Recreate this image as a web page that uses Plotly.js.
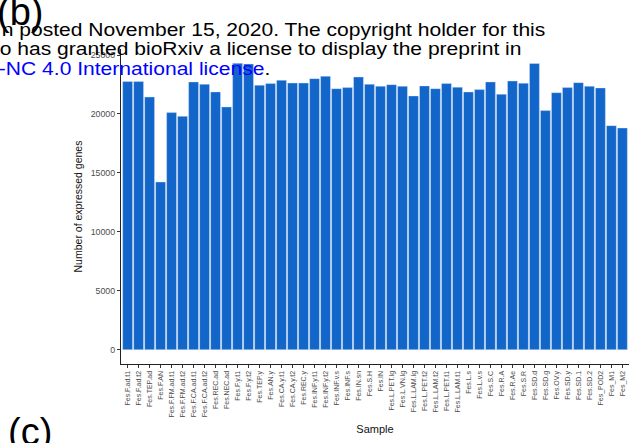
<!DOCTYPE html>
<html>
<head>
<meta charset="utf-8">
<script src="https://cdn.plot.ly/plotly-3.0.1.min.js"></script>
<style>
  html, body { margin: 0; padding: 0; background: #ffffff; }
  #chart { width: 637px; height: 443px; }
</style>
</head>
<body>
<div id="chart"></div>
<script>
// ---- data ----
const samples = [
  "Fes.F.ad.t1", "Fes.F.ad.t2", "Fes.TEP.ad", "Fes.F.AN", "Fes.F.FM.ad.t1",
  "Fes.F.FM.ad.t2", "Fes.F.CA.ad.t1", "Fes.F.CA.ad.t2", "Fes.REC.ad", "Fes.NEC.ad",
  "Fes.F.y.t1", "Fes.F.y.t2", "Fes.TEP.y", "Fes.AN.y", "Fes.CA.y.t1",
  "Fes.CA.y.t2", "Fes.REC.y", "Fes.INF.y.t1", "Fes.INF.y.t2", "Fes.INF.v.s",
  "Fes.INF.s", "Fes.IN.sn", "Fes.S.H", "Fes.IN", "Fes.L.PET.lg",
  "Fes.L.VN.lg", "Fes.L.LAM.lg", "Fes.L.PET.t2", "Fes.L.LAM.t2", "Fes.L.PET.t1",
  "Fes.L.LAM.t1", "Fes.L.s", "Fes.L.v.s", "Fes.S.C", "Fes.R.A",
  "Fes.R.Ae", "Fes.S.R", "Fes.SD.d", "Fes.SD.g", "Fes.OV.y",
  "Fes.SD.y", "Fes.SD.1", "Fes.SD.2", "Fes_POD2", "Fes_M1", "Fes_M2"
];
const expressedGenes = [
  22750, 22750, 21440, 14230, 20120,
  19800, 22720, 22520, 21870, 20600,
  24300, 24250, 22440, 22580, 22860,
  22630, 22630, 23000, 23200, 22150,
  22240, 23140, 22520, 22350, 22490,
  22350, 21530, 22380, 22150, 22580,
  22270, 21870, 22070, 22720, 21670,
  22800, 22610, 24280, 20290, 21810,
  22240, 22660, 22350, 22210, 19010, 18810
];
const yTickVals = [0, 5000, 10000, 15000, 20000, 25000];
const yTickText = ["0", "5000", "10000", "15000", "20000", "25000"];

// ---- layout geometry (pixels) ----
const W = 637, H = 443;
const M = { l: 121, r: 8, t: 49, b: 79 };
const PW = W - M.l - M.r, PH = H - M.t - M.b;
const px = x => (x - M.l) / PW;
const py = y => (H - M.b - y) / PH;

const ymax = Math.max(...expressedGenes);
const FONT = "Liberation Sans, Arial, Helvetica, sans-serif";

const trace = {
  type: "bar",
  x: samples,
  y: expressedGenes,
  marker: { color: "#1266CA", line: { color: "#dfe9f7", width: 0.4 } },
  hoverinfo: "x+y"
};

const hdr = { family: FONT, size: 18.3, color: "#000000" };
const ann = (text, x, y, font, xanchor) => ({
  text: text, xref: "paper", yref: "paper", x: px(x), y: py(y),
  xanchor: xanchor || "left", yanchor: "middle", showarrow: false,
  font: font, borderpad: 0
});

const layout = {
  width: W, height: H,
  margin: M,
  paper_bgcolor: "#ffffff", plot_bgcolor: "#ffffff",
  showlegend: false,
  bargap: 0.1,
  font: { family: FONT },
  xaxis: {
    type: "category",
    range: [-0.6, samples.length - 0.4],
    tickangle: -90,
    tickfont: { family: FONT, size: 7, color: "#4d4d4d" },
    ticks: "outside", ticklen: 3, tickwidth: 1, tickcolor: "#333333",
    showline: true, linecolor: "#222222", linewidth: 1.1,
    showgrid: false, zeroline: false,
    title: { text: "Sample", font: { family: FONT, size: 11, color: "#111111" }, standoff: 8 }
  },
  yaxis: {
    range: [-0.05 * ymax, 1.05 * ymax],
    tickvals: yTickVals, ticktext: yTickText,
    tickfont: { family: FONT, size: 8.8, color: "#4d4d4d" },
    ticks: "outside", ticklen: 3, tickwidth: 1, tickcolor: "#333333",
    showline: true, linecolor: "#222222", linewidth: 1.1,
    showgrid: false, zeroline: false,
    title: { text: "Number of expressed genes", font: { family: FONT, size: 10.5, color: "#111111" }, standoff: 6 }
  },
  annotations: [
    ann("n posted November 15, 2020. The copyright holder for this", 1, 29, hdr),
    ann("o has granted bioRxiv a license to display the preprint in", -1, 48.5, hdr),
    ann("<span style='color:#0000ff'>-NC 4.0 International license</span>.", -2, 68, hdr),
    ann("(b)", -4, 12, { family: FONT, size: 38, color: "#000000" }),
    ann("(c)", 7, 432, { family: FONT, size: 38, color: "#000000" })
  ]
};

Plotly.newPlot("chart", [trace], layout, { displayModeBar: false, staticPlot: true }).then(gd => {
  // the page header in the reference is stretched horizontally
  const groups = gd.querySelectorAll("g.annotation");
  const stretch = 1.15;
  for (let i = 0; i < 3 && i < groups.length; i++) {
    const t = groups[i].querySelector("text.annotation-text");
    if (!t) continue;
    const bb = t.getBBox();
    const prev = t.getAttribute("transform") || "";
    t.setAttribute("transform",
      (prev + " translate(" + bb.x + ",0) scale(" + stretch + ",1) translate(" + (-bb.x) + ",0)").trim());
  }
});
</script>
</body>
</html>
